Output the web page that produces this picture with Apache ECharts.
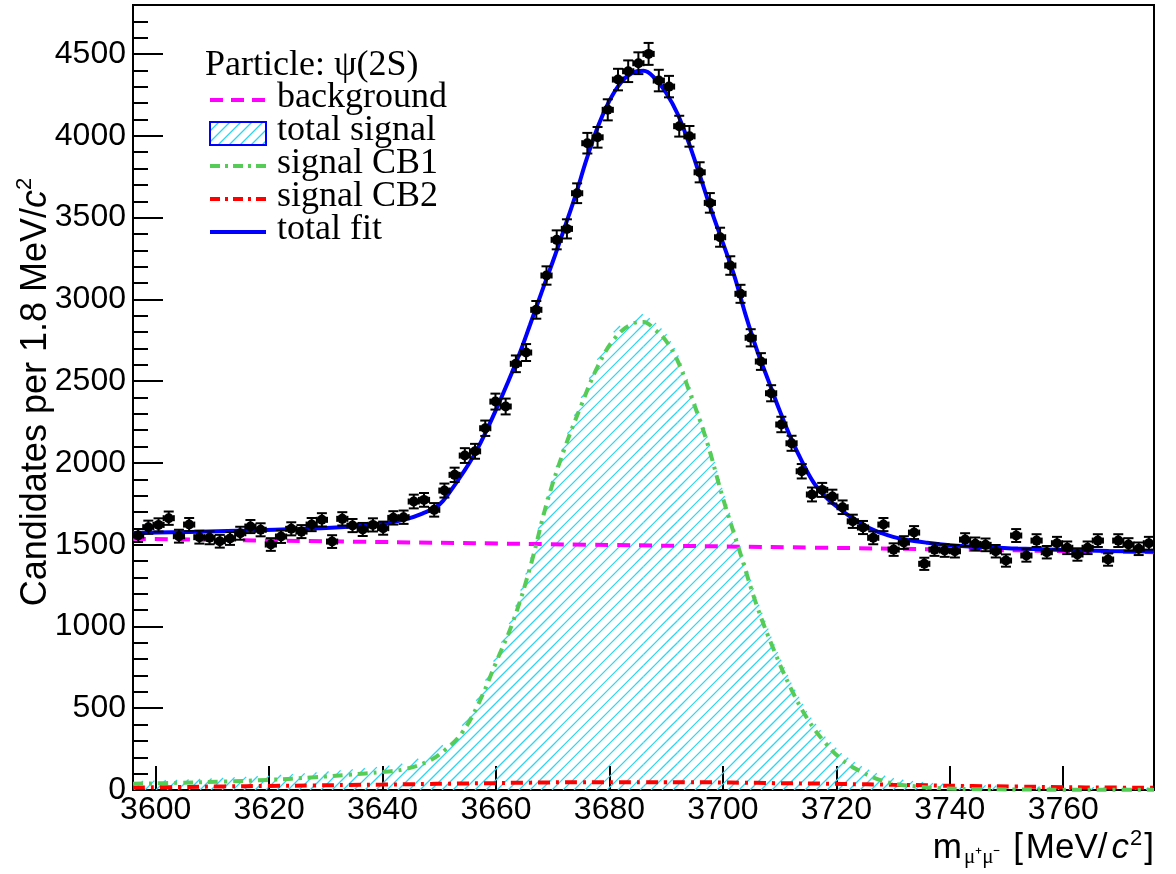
<!DOCTYPE html>
<html><head><meta charset="utf-8">
<script src="https://cdn.jsdelivr.net/npm/echarts@6/dist/echarts.min.js"></script>
<style>html,body{margin:0;padding:0;background:#fff}#c{width:1176px;height:874px}</style>
</head><body><div id="c"></div>
<script>
// ---- histogram binning ----
const BIN_LO = 3596, BIN_W = 1.8;
// ---- data: candidates per bin (100 bins, 3596-3776 MeV) ----
const counts = [
 1556,1607,1621,1662,1552,1623,1546,1542,1521,1538,
 1570,1611,1591,1501,1550,1597,1580,1623,1652,1519,
 1658,1617,1593,1621,1601,1664,1668,1764,1774,1713,
 1831,1927,2045,2071,2212,2375,2345,2606,2675,2936,
 3146,3364,3431,3649,3955,3991,4159,4344,4395,4444,
 4501,4338,4301,4059,3997,3777,3590,3380,3207,3034,
 2765,2620,2426,2235,2120,1949,1807,1835,1794,1729,
 1643,1605,1542,1623,1470,1513,1574,1383,1470,1464,
 1460,1531,1505,1499,1460,1403,1556,1434,1525,1454,
 1509,1481,1440,1481,1525,1409,1525,1501,1475,1509];

// ---- total fit curve ----
const fitMass = [3596,3606,3616,3626,3634,3640,3644,3647,3650,3652,3654,3656,3658,3660,3662,3664,3666,3668,3670,3672,3674,3676,3678,3680,3682,3684,3686,3688,3690,3692,3694,3696,3698,3700,3702,3704,3706,3708,3710,3712,3714,3716,3718,3720,3722,3724,3726,3728,3730,3732,3736,3740,3746,3752,3760,3768,3776];
const fitVals = [1572,1578,1586,1597,1610,1628,1655,1690,1745,1830,1930,2040,2175,2325,2485,2655,2845,3040,3230,3430,3635,3860,4060,4215,4325,4385,4398,4352,4262,4135,3955,3750,3540,3345,3145,2905,2690,2505,2320,2150,2005,1880,1795,1735,1682,1636,1598,1570,1548,1532,1512,1497,1484,1476,1468,1462,1458];

// ---- background ----
const bgMass = [3596,3636,3676,3716,3756,3776];
const bgVals = [1536,1518,1500,1482,1463,1454];

// ---- signal components ----
const sigMass = [3596,3604,3612,3620,3628,3634,3640,3644,3648,3651,3654,3657,3660,3663,3666,3669,3672,3675,3678,3681,3684,3686,3688,3690,3692,3694,3697,3700,3703,3706,3709,3712,3715,3718,3721,3724,3727,3730,3734,3738,3744,3752,3760,3768,3776];
const cb1Vals = [38,44,52,62,78,93,110,128,175,245,350,535,780,1030,1360,1760,2080,2350,2595,2765,2850,2862,2815,2745,2625,2445,2150,1785,1455,1125,855,620,430,290,185,118,70,40,22,12,6,3,2,1,1];
const cb2Vals = [15,18,22,25,28,31,33,35,37,38,40,41,42,44,45,46,47,47,48,48,48,48,48,48,48,47,47,46,45,44,42,41,40,39,37,35,34,32,30,27,24,21,17,15,13];
const totalSignalVals = [53,62,74,87,106,124,143,163,212,283,390,576,822,1074,1405,1806,2127,2397,2643,2813,2898,2910,2863,2793,2673,2492,2197,1831,1500,1169,897,661,470,329,222,153,104,72,52,39,30,24,19,16,14];

// ---- ticks ----
const xTickValues = [3600,3620,3640,3660,3680,3700,3720,3740,3760];
const yTickValues = [0,500,1000,1500,2000,2500,3000,3500,4000,4500];

// ---- legend labels ----
const legendHeader = 'Particle: \u03c8(2S)';
const legendLabels = ['background','total signal','signal CB1','signal CB2','total fit'];

function zip(a, b){ return a.map((v,i)=>[v,b[i]]); }

// hatch ("/" lines, x+y = k*sp in pixels) clipped to trapezoid with linear top edge
const HATCH_COLOR = '#2ad6f0';
const HATCH_W = 1.3;
const HATCH_SP = 11;
function hatchLines(xa, ya, xb, yb, y0, sp){
  const out = [];
  if (xb <= xa) return out;
  const s = (yb - ya) / (xb - xa);
  const kStart = Math.floor((xa + Math.min(ya, yb)) / sp) * sp;
  const kEnd = xb + y0;
  for (let K = kStart; K <= kEnd; K += sp){
    let lo = Math.max(xa, K - y0), hi = xb;
    const A = 1 + s, B = K - ya + s * xa;
    if (Math.abs(A) < 1e-9){ if (B < 0) continue; }
    else if (A > 0) hi = Math.min(hi, B / A);
    else lo = Math.max(lo, B / A);
    if (hi > lo + 0.2) out.push({x1:lo, y1:K-lo, x2:hi, y2:K-hi});
  }
  return out;
}

const points = counts.map((n,i)=>[BIN_LO + BIN_W*(i+0.5), n, Math.sqrt(n)]);
const signalSegments = sigMass.slice(0,-1).map((m,i)=>[m, totalSignalVals[i], sigMass[i+1], totalSignalVals[i+1]]);

const chart = echarts.init(document.getElementById('c'));
const SANS = '"Liberation Sans", Arial, Helvetica, sans-serif';
const SERIF = '"Liberation Serif", "Times New Roman", serif';

const legendRows = [100,133,166,199,232];
const legendX0 = 210, legendX1 = 266, legendTextX = 277;
const boxTop = legendRows[1]-11, boxBot = legendRows[1]+12;
const graphics = [
  {type:'text', x:205, y:66, z:20, style:{text:legendHeader, font:'36px '+SERIF, fill:'#000', align:'left', verticalAlign:'middle'}},
  {type:'line', z:20, shape:{x1:legendX0,y1:legendRows[0],x2:legendX1,y2:legendRows[0]}, style:{stroke:'#ff00ff', lineWidth:4, lineDash:[13,8]}},
  {type:'line', z:20, shape:{x1:legendX0,y1:legendRows[2],x2:legendX1,y2:legendRows[2]}, style:{stroke:'#55cc55', lineWidth:4, lineDash:[10,5,3,5]}},
  {type:'line', z:20, shape:{x1:legendX0,y1:legendRows[3],x2:legendX1,y2:legendRows[3]}, style:{stroke:'#ff0000', lineWidth:4, lineDash:[10,5,3,5]}},
  {type:'line', z:20, shape:{x1:legendX0,y1:legendRows[4],x2:legendX1,y2:legendRows[4]}, style:{stroke:'#0000ff', lineWidth:4}}
];
hatchLines(legendX0, boxTop, legendX1, boxTop, boxBot, HATCH_SP).forEach(l=>graphics.push({type:'line', z:20, shape:l, style:{stroke:HATCH_COLOR, lineWidth:HATCH_W}}));
graphics.push({type:'rect', z:21, shape:{x:legendX0,y:boxTop,width:legendX1-legendX0,height:boxBot-boxTop}, style:{fill:null, stroke:'#0000ff', lineWidth:2}});
legendLabels.forEach((t,i)=>graphics.push({type:'text', x:legendTextX, y:legendRows[i]-2, z:20, style:{text:t, font:'36px '+SERIF, fill:'#000', align:'left', verticalAlign:'middle'}}));
// y-axis title
graphics.push({type:'text', x:36, y:392, rotation:Math.PI/2, z:20, style:{
  text:'Candidates per 1.8 MeV/{c|c}{s|2}', font:'36px '+SANS, fill:'#000', align:'center', verticalAlign:'middle', lineHeight:44,
  rich:{c:{font:'italic 36px '+SANS, fill:'#000', lineHeight:44},
        s:{font:'22px '+SANS, fill:'#000', lineHeight:34, verticalAlign:'top'}}}});
// x-axis title
graphics.push({type:'text', x:1154, y:868, z:20, style:{
  text:'m{sub|\u03bc\u207a\u03bc\u207b} {b|[}MeV/{c|c}{s|2}]', font:'35px '+SANS, fill:'#000', align:'right', verticalAlign:'bottom', lineHeight:40,
  rich:{sub:{font:'21px '+SERIF, fill:'#000', lineHeight:20, verticalAlign:'bottom', padding:[0,3,0,2]},
        b:{font:'35px '+SANS, fill:'#000', lineHeight:40, padding:[0,3,0,0]},
        c:{font:'italic 35px '+SANS, fill:'#000', lineHeight:40, padding:[0,1,0,4]},
        s:{font:'22px '+SANS, fill:'#000', lineHeight:30, verticalAlign:'top', padding:[0,2,0,0]}}}});

const fmt = v => String(v);
const option = {
  animation:false,
  backgroundColor:'#fff',
  grid:{left:133, right:22, top:5, bottom:84, show:true, borderColor:'#000', borderWidth:2, backgroundColor:'rgba(0,0,0,0)'},
  xAxis:{type:'value', min:3596, max:3776,
    axisLine:{show:true, onZero:false, lineStyle:{color:'#000', width:2}},
    axisTick:{show:true, inside:true, length:24, customValues:xTickValues, lineStyle:{color:'#000', width:2}},
    axisLabel:{customValues:xTickValues, formatter:fmt, fontSize:32, fontFamily:SANS, color:'#000', margin:4},
    splitLine:{show:false}},
  yAxis:[
    {type:'value', min:0, max:4800,
     axisLine:{show:true, onZero:false, lineStyle:{color:'#000', width:2}},
     axisTick:{show:true, inside:true, length:30, customValues:yTickValues, lineStyle:{color:'#000', width:2}},
     axisLabel:{customValues:yTickValues, formatter:fmt, fontSize:32, fontFamily:SANS, color:'#000', margin:7},
     splitLine:{show:false}},
    {type:'value', min:0, max:4800, interval:100, position:'left',
     axisLine:{show:false}, axisTick:{show:true, inside:true, length:15, lineStyle:{color:'#000', width:2}},
     axisLabel:{show:false}, splitLine:{show:false}}
  ],
  graphic:graphics,
  series:[
    {type:'custom', name:'total signal', data:signalSegments, z:1, clip:true, encode:{x:[0,2], y:[1,3]},
     renderItem:function(params, api){
       const a=api.coord([api.value(0), api.value(1)]);
       const b=api.coord([api.value(2), api.value(3)]);
       const y0=api.coord([api.value(0), 0])[1];
       const ls=hatchLines(a[0], a[1], b[0], b[1], y0, HATCH_SP);
       return {type:'group', children: ls.map(l=>({type:'line', shape:l, style:{stroke:HATCH_COLOR, lineWidth:HATCH_W}}))};
     }},
    {type:'line', name:'background', data:zip(bgMass,bgVals), smooth:true, symbol:'none', z:3,
     lineStyle:{color:'#ff00ff', width:4, type:[13,9]}},
    {type:'line', name:'signal CB2', data:zip(sigMass,cb2Vals), smooth:0.4, symbol:'none', z:3,
     lineStyle:{color:'#ff0000', width:4, type:[12,6,3,6]}},
    {type:'line', name:'signal CB1', data:zip(sigMass,cb1Vals), smooth:0.4, symbol:'none', z:3,
     lineStyle:{color:'#55cc55', width:4, type:[10,6,3,6]}},
    {type:'line', name:'total fit', data:zip(fitMass,fitVals), smooth:0.4, symbol:'none', z:4,
     lineStyle:{color:'#0000ff', width:4}},
    {type:'custom', name:'data', data:points, z:6,
     renderItem:function(params, api){
       const x=api.value(0), y=api.value(1), e=api.value(2);
       const c=api.coord([x,y]), t=api.coord([x,y+e]), b=api.coord([x,y-e]);
       const l=api.coord([x-BIN_W/2,y]), r=api.coord([x+BIN_W/2,y]);
       const st={stroke:'#000', lineWidth:2};
       const cap=5, hc=3;
       return {type:'group', children:[
         {type:'line', shape:{x1:c[0],y1:t[1],x2:c[0],y2:b[1]}, style:st},
         {type:'line', shape:{x1:c[0]-cap,y1:t[1],x2:c[0]+cap,y2:t[1]}, style:st},
         {type:'line', shape:{x1:c[0]-cap,y1:b[1],x2:c[0]+cap,y2:b[1]}, style:st},
         {type:'line', shape:{x1:l[0],y1:c[1],x2:r[0],y2:c[1]}, style:st},
         {type:'line', shape:{x1:l[0],y1:c[1]-hc,x2:l[0],y2:c[1]+hc}, style:st},
         {type:'line', shape:{x1:r[0],y1:c[1]-hc,x2:r[0],y2:c[1]+hc}, style:st},
         {type:'circle', shape:{cx:c[0],cy:c[1],r:5}, style:{fill:'#000'}}
       ]};
     }}
  ]
};
chart.setOption(option);
</script></body></html>
